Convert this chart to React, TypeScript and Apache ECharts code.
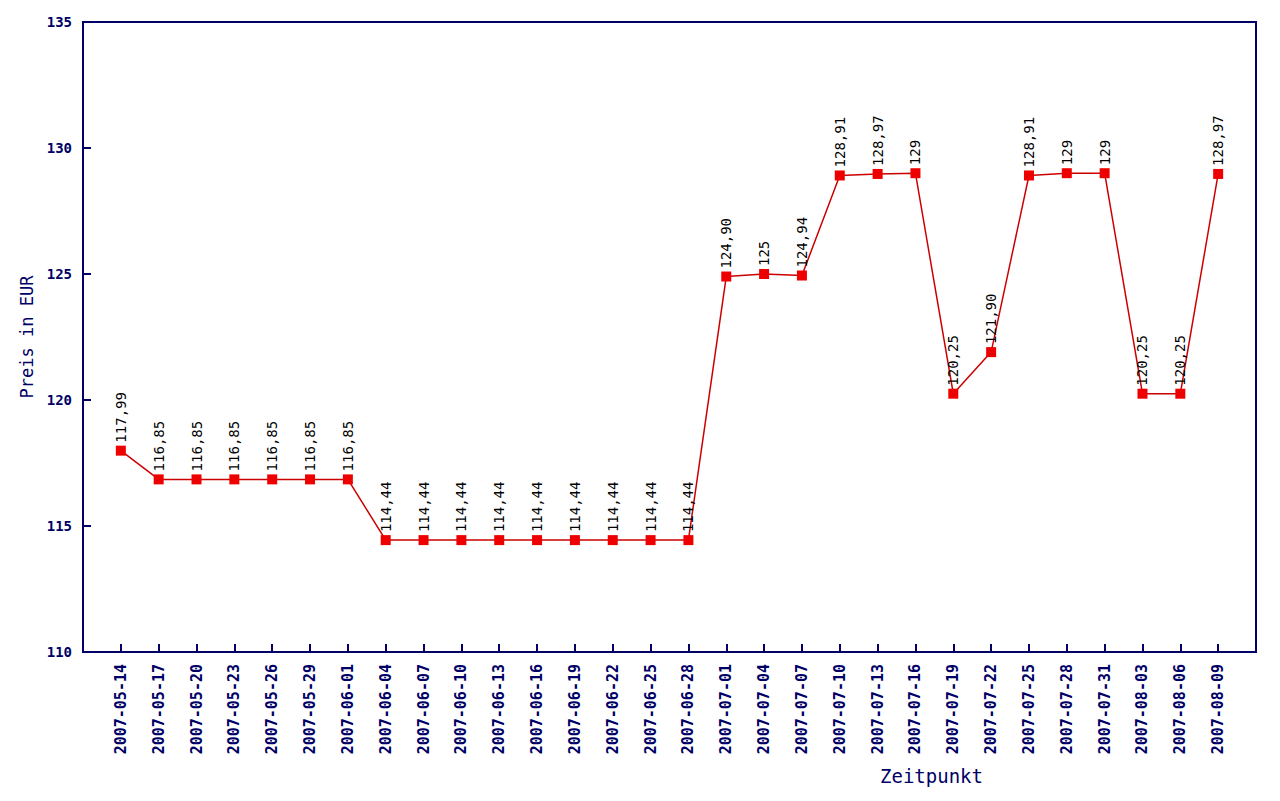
import React, { useEffect, useRef } from "react";
import * as echarts from "echarts";

const dates = [
  "2007-05-14", "2007-05-17", "2007-05-20", "2007-05-23", "2007-05-26", "2007-05-29",
  "2007-06-01", "2007-06-04", "2007-06-07", "2007-06-10", "2007-06-13", "2007-06-16",
  "2007-06-19", "2007-06-22", "2007-06-25", "2007-06-28", "2007-07-01", "2007-07-04",
  "2007-07-07", "2007-07-10", "2007-07-13", "2007-07-16", "2007-07-19", "2007-07-22",
  "2007-07-25", "2007-07-28", "2007-07-31", "2007-08-03", "2007-08-06", "2007-08-09",
];

const prices = [
  117.99, 116.85, 116.85, 116.85, 116.85, 116.85,
  116.85, 114.44, 114.44, 114.44, 114.44, 114.44,
  114.44, 114.44, 114.44, 114.44, 124.9, 125,
  124.94, 128.91, 128.97, 129, 120.25, 121.9,
  128.91, 129, 129, 120.25, 120.25, 128.97,
];

const yTicks = [110, 115, 120, 125, 130, 135];

const NAVY = "#000066";
const MONO = "'DejaVu Sans Mono', monospace";

function fmt(v: number): string {
  if (Number.isInteger(v)) return String(v);
  return v.toFixed(2).replace(".", ",");
}

export default function App() {
  const ref = useRef<HTMLDivElement>(null);
  useEffect(() => {
    document.body.style.margin = "0";
    const chart = echarts.init(ref.current!, null, { renderer: "svg" });
    const cats = ["", ...dates, ""];
    const data = [null, ...prices, null];
    const last = cats.length - 1;
    chart.setOption({
      animation: false,
      backgroundColor: "#ffffff",
      grid: {
        left: 83,
        top: 22,
        right: 24,
        bottom: 149,
        show: true,
        borderColor: NAVY,
        borderWidth: 2,
      },
      xAxis: {
        type: "category",
        data: cats,
        boundaryGap: false,
        axisLine: { lineStyle: { color: NAVY, width: 2 } },
        axisTick: {
          inside: true,
          length: 8,
          lineStyle: { color: NAVY, width: 2 },
          interval: (i: number) => i > 0 && i < last,
        },
        axisLabel: {
          rotate: 90,
          interval: 0,
          margin: 12,
          color: NAVY,
          fontFamily: MONO,
          fontSize: 15,
          fontWeight: "bold",
        },
        splitLine: { show: false },
      },
      yAxis: {
        type: "value",
        min: yTicks[0],
        max: yTicks[yTicks.length - 1],
        interval: 5,
        name: "Preis in EUR",
        nameLocation: "middle",
        nameGap: 48,
        nameTextStyle: { color: NAVY, fontFamily: MONO, fontSize: 17 },
        axisLine: { show: true, lineStyle: { color: NAVY, width: 2 } },
        axisTick: { show: true, inside: true, length: 8, lineStyle: { color: NAVY, width: 2 } },
        axisLabel: { color: NAVY, fontFamily: MONO, fontSize: 14, fontWeight: "bold", margin: 11 },
        splitLine: { show: false },
      },
      graphic: [
        {
          type: "text",
          left: 880,
          top: 766,
          style: { text: "Zeitpunkt", fill: NAVY, font: `19px ${MONO}` },
        },
      ],
      series: [
        {
          type: "line",
          data,
          connectNulls: false,
          symbol: "rect",
          symbolSize: 10,
          itemStyle: { color: "#ee0000" },
          lineStyle: { color: "#cc0000", width: 1.5 },
          label: {
            show: true,
            position: "top",
            rotate: 90,
            align: "left",
            verticalAlign: "middle",
            distance: 3,
            color: "#000000",
            fontFamily: MONO,
            fontSize: 14,
            formatter: (p: any) => fmt(p.value),
          },
        },
      ],
    });
    return () => chart.dispose();
  }, []);
  return <div ref={ref} style={{ width: 1280, height: 801 }} />;
}
